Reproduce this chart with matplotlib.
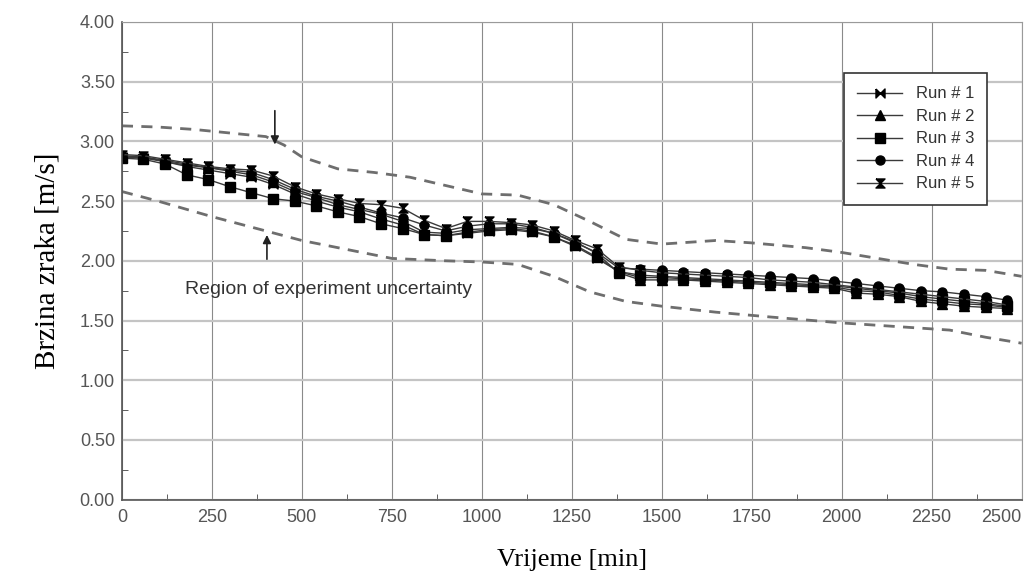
import numpy as np
import matplotlib
matplotlib.use("Agg")
import matplotlib.pyplot as plt
from matplotlib.path import Path

# time axis (min), one reading every 60 min
t = np.arange(0, 2461, 60)

run1 = [2.87, 2.86, 2.83, 2.79, 2.76, 2.73, 2.70, 2.64, 2.56, 2.50, 2.45, 2.41, 2.35, 2.30,
        2.22, 2.21, 2.23, 2.25, 2.26, 2.24, 2.20, 2.12, 2.02, 1.91, 1.86, 1.86, 1.85, 1.84,
        1.83, 1.82, 1.81, 1.80, 1.79, 1.78, 1.75, 1.74, 1.71, 1.68, 1.66, 1.64, 1.63, 1.61]
run2 = [2.87, 2.87, 2.83, 2.80, 2.78, 2.75, 2.72, 2.66, 2.58, 2.53, 2.47, 2.43, 2.39, 2.33,
        2.24, 2.23, 2.26, 2.27, 2.28, 2.27, 2.23, 2.16, 2.06, 1.90, 1.84, 1.84, 1.84, 1.83,
        1.82, 1.81, 1.80, 1.79, 1.78, 1.77, 1.73, 1.72, 1.70, 1.66, 1.64, 1.62, 1.61, 1.60]
run3 = [2.86, 2.85, 2.81, 2.72, 2.68, 2.62, 2.57, 2.52, 2.50, 2.46, 2.41, 2.37, 2.31, 2.27,
        2.22, 2.21, 2.24, 2.26, 2.27, 2.25, 2.20, 2.13, 2.03, 1.91, 1.88, 1.87, 1.86, 1.85,
        1.84, 1.83, 1.82, 1.81, 1.80, 1.79, 1.77, 1.75, 1.73, 1.70, 1.68, 1.66, 1.64, 1.62]
run4 = [2.88, 2.87, 2.84, 2.81, 2.78, 2.76, 2.74, 2.68, 2.60, 2.54, 2.50, 2.45, 2.40, 2.36,
        2.30, 2.25, 2.29, 2.31, 2.31, 2.28, 2.23, 2.15, 2.07, 1.94, 1.93, 1.92, 1.91, 1.90,
        1.89, 1.88, 1.87, 1.86, 1.85, 1.83, 1.81, 1.79, 1.77, 1.75, 1.74, 1.72, 1.70, 1.67]
run5 = [2.89, 2.88, 2.85, 2.82, 2.79, 2.77, 2.76, 2.71, 2.62, 2.56, 2.52, 2.48, 2.47, 2.44,
        2.34, 2.27, 2.33, 2.33, 2.32, 2.30, 2.25, 2.17, 2.10, 1.95, 1.92, 1.90, 1.89, 1.88,
        1.87, 1.86, 1.84, 1.83, 1.82, 1.80, 1.78, 1.76, 1.74, 1.72, 1.70, 1.68, 1.66, 1.63]

# region of experiment uncertainty
upper_t = [0, 100, 200, 300, 400, 450, 500, 600, 700, 800, 900, 1000, 1100, 1200, 1300,
           1400, 1500, 1650, 1750, 1900, 2000, 2100, 2200, 2300, 2400, 2500]
upper = [3.13, 3.12, 3.10, 3.07, 3.04, 2.97, 2.87, 2.77, 2.74, 2.70, 2.63, 2.56, 2.55, 2.47,
         2.33, 2.18, 2.14, 2.17, 2.15, 2.11, 2.07, 2.02, 1.97, 1.93, 1.92, 1.87]
lower_t = [0, 100, 250, 500, 700, 750, 900, 1000, 1100, 1200, 1300, 1400, 1500, 1650, 1800,
           2000, 2200, 2300, 2400, 2500]
lower = [2.58, 2.50, 2.37, 2.17, 2.05, 2.02, 2.00, 1.99, 1.97, 1.87, 1.74, 1.66, 1.62, 1.57,
         1.53, 1.48, 1.44, 1.42, 1.36, 1.31]

labels = ["Run # 1", "Run # 2", "Run # 3", "Run # 4", "Run # 5"]

# self-crossing polygons give bowtie / hourglass markers
bowtie = Path([(-1, 1), (-1, -1), (1, 1), (1, -1), (-1, 1)])
hourglass = Path([(-1, 1), (1, 1), (-1, -1), (1, -1), (-1, 1)])
markers = [bowtie, "^", "s", "o", hourglass]

fig = plt.figure(figsize=(10.33, 5.77), dpi=100)
ax = fig.add_axes([0.118, 0.134, 0.871, 0.828])

ax.grid(True, axis="y", color="#c4c4c4", lw=1.6)
ax.grid(True, axis="x", color="#8a8a8a", lw=0.8)
ax.set_axisbelow(True)

ax.plot(upper_t, upper, ls=(0, (4, 3)), color="#6e6e6e", lw=2)
ax.plot(lower_t, lower, ls=(0, (4, 3)), color="#6e6e6e", lw=2)

for run, m, lab in zip([run1, run2, run3, run4, run5], markers, labels):
    ax.plot(t, run, color="#3a3a3a", lw=1.0, marker=m, ms=6.5, mfc="black", mec="black",
            label=lab)

ax.annotate("", xy=(425, 2.95), xytext=(425, 3.28),
            arrowprops=dict(arrowstyle="-|>", color="#222222", lw=1.2, mutation_scale=12))
ax.annotate("", xy=(403, 2.24), xytext=(403, 1.99),
            arrowprops=dict(arrowstyle="-|>", color="#222222", lw=1.2, mutation_scale=12))
ax.text(175, 1.76, "Region of experiment uncertainty", fontsize=14, color="#333333",
        family="Liberation Sans", va="center")

ax.set_xlim(0, 2500)
ax.set_ylim(0, 4)
ax.set_xticks(np.arange(0, 2501, 250))
ax.set_yticks(np.arange(0, 4.01, 0.5))
ax.set_xticks(np.arange(125, 2500, 250), minor=True)
ax.set_yticks(np.arange(0.25, 4, 0.5), minor=True)
ax.set_yticklabels([f"{v:.2f}" for v in np.arange(0, 4.01, 0.5)])
ax.tick_params(which="both", direction="in", colors="#444444", labelsize=13)
ax.tick_params(which="major", length=0)
ax.tick_params(axis="y", which="major", pad=5)
ax.tick_params(axis="x", which="major", pad=7)
ax.tick_params(which="minor", length=4)
for lbl in ax.get_xticklabels() + ax.get_yticklabels():
    lbl.set_family("Liberation Sans")
    lbl.set_color("#555555")
ax.get_xticklabels()[-1].set_ha("right")

for s in ["top", "right"]:
    ax.spines[s].set_color("#9a9a9a")
    ax.spines[s].set_linewidth(0.8)
for s in ["left", "bottom"]:
    ax.spines[s].set_color("#555555")
    ax.spines[s].set_linewidth(1.2)

ax.set_xlabel("Vrijeme [min]", family="Liberation Serif", fontsize=19, labelpad=16)
ax.set_ylabel("Brzina zraka [m/s]", family="Liberation Serif", fontsize=21, labelpad=14)

leg = ax.legend(loc="upper right", bbox_to_anchor=(0.962, 0.893), borderaxespad=0,
                fancybox=False, edgecolor="#333333", framealpha=1,
                prop={"family": "Liberation Sans", "size": 12},
                handlelength=2.7, labelspacing=0.45, borderpad=0.8)
leg.get_frame().set_linewidth(1.2)
for txt in leg.get_texts():
    txt.set_color("#333333")

fig.savefig("out.png", dpi=100)
